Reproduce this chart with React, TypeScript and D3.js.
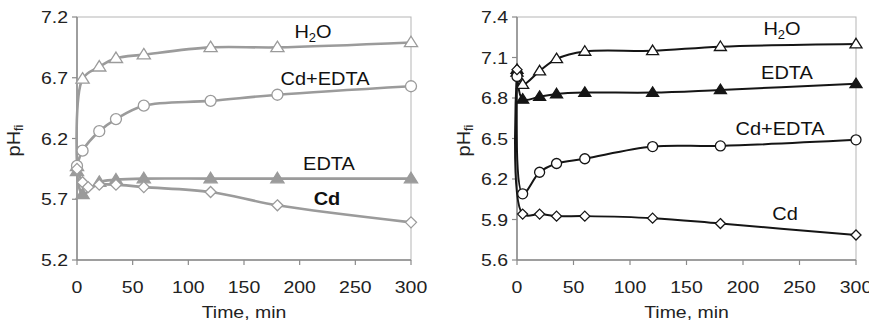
import React from 'react';
import * as d3 from 'd3';

// time points (min)
const times = [0, 5, 20, 35, 60, 120, 180, 300];
const timesCdLeft = [0, 5, 10, 20, 35, 60, 120, 180, 300];

// left panel values (pH_fi)
const leftH2O = [5.97, 6.69, 6.79, 6.86, 6.89, 6.95, 6.95, 6.99];
const leftCdEDTA = [5.975, 6.1, 6.26, 6.36, 6.47, 6.51, 6.56, 6.63];
const leftEDTA = [5.93, 5.74, 5.84, 5.86, 5.87, 5.87, 5.87, 5.87];
const leftCd = [5.95, 5.84, 5.8, 5.82, 5.82, 5.8, 5.76, 5.65, 5.51];

// right panel values
const rightH2O = [6.99, 6.9, 7.0, 7.09, 7.145, 7.15, 7.18, 7.2];
const rightEDTA = [7.01, 6.79, 6.81, 6.83, 6.84, 6.84, 6.86, 6.905];
const rightCdEDTA = [6.96, 6.09, 6.25, 6.315, 6.35, 6.44, 6.445, 6.49];
const rightCd = [7.01, 5.94, 5.94, 5.925, 5.925, 5.91, 5.87, 5.785];

const xTicks = [0, 50, 100, 150, 200, 250, 300];
const leftYTicks = [5.2, 5.7, 6.2, 6.7, 7.2];
const rightYTicks = [5.6, 5.9, 6.2, 6.5, 6.8, 7.1, 7.4];

type Marker = 'tri' | 'triFill' | 'circle' | 'diamond';
type Series = { t: number[]; v: number[]; marker: Marker };
type Label = { text: React.ReactNode; x: number; y: number; bold?: boolean };

const FONT = '"Liberation Sans", Arial, sans-serif';
const SX = 1.18; // tick/axis text is drawn a bit wide in the original
const SXL = 1.08;

const MarkerShape = ({ m, x, y, stroke, fill, s }: { m: Marker; x: number; y: number; stroke: string; fill: string; s: number }) => {
  if (m === 'circle') return <circle cx={x} cy={y} r={s * 0.5} fill={fill} stroke={stroke} strokeWidth={1.3} />;
  if (m === 'diamond') {
    const r = s * 0.5;
    return <path d={`M${x},${y - r}L${x + r},${y}L${x},${y + r}L${x - r},${y}Z`} fill={fill} stroke={stroke} strokeWidth={1.3} />;
  }
  const h = s * 0.95;
  const w = s * 0.6;
  return (
    <path
      d={`M${x},${y - h * 0.6}L${x + w},${y + h * 0.4}L${x - w},${y + h * 0.4}Z`}
      fill={m === 'triFill' ? stroke : fill}
      stroke={stroke}
      strokeWidth={1.3}
    />
  );
};

const Panel = ({
  plot, yDomain, yTicks, series, labels, lineColor, lineWidth, markerSize, ylabX,
}: {
  plot: { x0: number; x1: number; y0: number; y1: number };
  yDomain: [number, number];
  yTicks: number[];
  series: Series[];
  labels: Label[];
  lineColor: string;
  lineWidth: number;
  markerSize: number;
  ylabX: number;
}) => {
  const x = d3.scaleLinear().domain([0, 300]).range([plot.x0, plot.x1]);
  const y = d3.scaleLinear().domain(yDomain).range([plot.y1, plot.y0]);
  const line = d3
    .line<[number, number]>()
    .x((d) => x(d[0]))
    .y((d) => y(d[1]))
    .curve(d3.curveCatmullRom.alpha(0.5));
  const axisColor = '#8a8a8a';
  const txt = '#222';
  return (
    <g>
      {/* plot frame */}
      <rect x={plot.x0} y={plot.y0} width={plot.x1 - plot.x0} height={plot.y1 - plot.y0} fill="none" stroke="#b5b5b5" strokeWidth={1} />
      <line x1={plot.x0} x2={plot.x0} y1={plot.y0} y2={plot.y1} stroke={axisColor} strokeWidth={1.5} />
      <line x1={plot.x0} x2={plot.x1} y1={plot.y1} y2={plot.y1} stroke={axisColor} strokeWidth={1.5} />
      {yTicks.map((t) => (
        <g key={'y' + t}>
          <line x1={plot.x0 - 5} x2={plot.x0} y1={y(t)} y2={y(t)} stroke={axisColor} strokeWidth={1.2} />
          <text transform={`translate(${plot.x0 - 9},${y(t) + 6}) scale(${SX},1)`} textAnchor="end" fontSize={16.5} fill={txt} fontFamily={FONT}>
            {t.toFixed(1)}
          </text>
        </g>
      ))}
      {xTicks.map((t) => (
        <g key={'x' + t}>
          <line x1={x(t)} x2={x(t)} y1={plot.y1} y2={plot.y1 + 5} stroke={axisColor} strokeWidth={1.2} />
          <text transform={`translate(${x(t)},${plot.y1 + 33}) scale(${SX},1)`} textAnchor="middle" fontSize={16.5} fill={txt} fontFamily={FONT}>
            {t}
          </text>
        </g>
      ))}
      <text transform={`translate(${(plot.x0 + plot.x1) / 2},${plot.y1 + 58}) scale(${SX},1)`} textAnchor="middle" fontSize={16.5} fill={txt} fontFamily={FONT}>
        Time, min
      </text>
      <text transform={`translate(${ylabX},${(plot.y0 + plot.y1) / 2 + 2}) rotate(-90) scale(1.05,1)`} textAnchor="middle" fontSize={19} fill={txt} fontFamily={FONT}>
        pH<tspan fontSize={12} dy={3}>fi</tspan>
      </text>
      {series.map((s, i) => {
        const pts = s.t.map((t, j) => [t, s.v[j]] as [number, number]);
        return <path key={'l' + i} d={line(pts) ?? ''} fill="none" stroke={lineColor} strokeWidth={lineWidth} />;
      })}
      {series.map((s, i) =>
        s.t.map((t, j) => (
          <MarkerShape key={`m${i}-${j}`} m={s.marker} x={x(t)} y={y(s.v[j])} stroke={lineColor} fill="#fff" s={markerSize} />
        )),
      )}
      {labels.map((l, i) => (
        <text
          key={'a' + i}
          transform={`translate(${l.x},${l.y}) scale(${SXL},1)`}
          textAnchor="middle"
          fontSize={18.5}
          fontWeight={l.bold ? 'bold' : 'normal'}
          fill="#111"
          fontFamily={FONT}
        >
          {l.text}
        </text>
      ))}
    </g>
  );
};

const H2O = (
  <>
    H<tspan fontSize={12} dy={4}>2</tspan>
    <tspan dy={-4}>O</tspan>
  </>
);

export default function App() {
  return (
    <svg width={869} height={323} style={{ position: 'absolute', left: 0, top: 0, background: '#fff' }}>
      <Panel
        plot={{ x0: 77, x1: 411, y0: 17, y1: 260 }}
        yDomain={[5.2, 7.2]}
        yTicks={leftYTicks}
        lineColor="#9b9b9b"
        lineWidth={2.6}
        markerSize={11}
        ylabX={20}
        series={[
          { t: times, v: leftH2O, marker: 'tri' },
          { t: times, v: leftCdEDTA, marker: 'circle' },
          { t: times, v: leftEDTA, marker: 'triFill' },
          { t: timesCdLeft, v: leftCd, marker: 'diamond' },
        ]}
        labels={[
          { text: H2O, x: 313, y: 38 },
          { text: 'Cd+EDTA', x: 325, y: 85 },
          { text: 'EDTA', x: 329, y: 170 },
          { text: 'Cd', x: 327, y: 205, bold: true },
        ]}
      />
      <Panel
        plot={{ x0: 517, x1: 856, y0: 17, y1: 260 }}
        yDomain={[5.6, 7.4]}
        yTicks={rightYTicks}
        lineColor="#151515"
        lineWidth={2}
        markerSize={10}
        ylabX={470}
        series={[
          { t: times, v: rightH2O, marker: 'tri' },
          { t: times, v: rightEDTA, marker: 'triFill' },
          { t: times, v: rightCdEDTA, marker: 'circle' },
          { t: times, v: rightCd, marker: 'diamond' },
        ]}
        labels={[
          { text: H2O, x: 782, y: 35 },
          { text: 'EDTA', x: 787, y: 79 },
          { text: 'Cd+EDTA', x: 780, y: 135 },
          { text: 'Cd', x: 785, y: 220 },
        ]}
      />
    </svg>
  );
}
